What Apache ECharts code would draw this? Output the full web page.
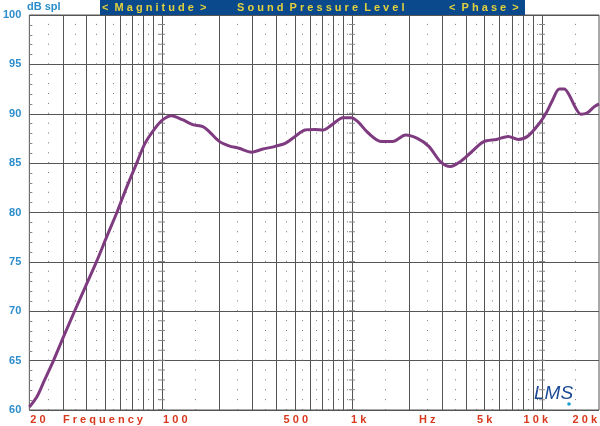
<!DOCTYPE html>
<html><head><meta charset="utf-8">
<script src="https://cdn.jsdelivr.net/npm/echarts@6/dist/echarts.min.js"></script>
<style>html,body{margin:0;padding:0;background:#fff}#c{width:600px;height:426px}</style>
</head><body><div id="c"></div>
<script>
// ---- data ----
const freqs = [20, 22, 24, 26.8, 30.4, 34.6, 39.5, 45.1, 51, 57.8, 65.2, 73.5, 81.3, 91.6, 101, 112, 128, 145, 164, 177, 200, 225, 254, 296, 336, 394, 445, 502, 566, 638, 706, 780, 898, 991, 1074, 1211, 1421, 1637, 1919, 2209, 2541, 2923, 3297, 3716, 4190, 4920, 5780, 6650, 7500, 8460, 9720, 10520, 11400, 12360, 13120, 13930, 15100, 16030, 17380, 18830, 20000];
const spl = [60.3, 61.4, 63.0, 65.0, 67.5, 70.0, 72.5, 75.0, 77.5, 80.0, 82.6, 85.0, 87.0, 88.5, 89.4, 89.8, 89.4, 88.9, 88.7, 88.2, 87.2, 86.75, 86.5, 86.1, 86.4, 86.7, 87.0, 87.7, 88.35, 88.4, 88.35, 88.85, 89.6, 89.6, 89.2, 88.1, 87.2, 87.2, 87.85, 87.5, 86.7, 85.15, 84.65, 85.15, 86.0, 87.15, 87.4, 87.7, 87.4, 87.75, 89.05, 90.05, 91.4, 92.5, 92.5, 91.9, 90.55, 89.95, 90.1, 90.7, 91.0];
const xTickLabels = ['20', 'Frequency', '100', '500', '1k', 'Hz', '5k', '10k', '20k'];
const xTickFreqs = [20, 50, 100, 500, 1000, 2550, 5000, 10000, 20000];
const majorGridFreqs = [30, 40, 50, 60, 70, 80, 90, 100, 200, 300, 400, 500, 600, 700, 800, 900, 1000, 2000, 3000, 4000, 5000, 6000, 7000, 8000, 9000, 10000];
const minorGridFreqs = [25, 35, 45, 55, 65, 75, 85, 95, 150, 250, 350, 450, 550, 650, 750, 850, 950, 1500, 2500, 3500, 4500, 5500, 6500, 7500, 8500, 9500, 15000];
const decadeFreqs = [100, 1000, 10000];
const bannerTexts = ['< Magnitude >', 'Sound Pressure Level', '< Phase >'];
const yUnit = 'dB spl';
const logoText = 'LMS';

// ---- chart ----
const FONT = '"Liberation Sans", Arial, sans-serif';
const spaced = s => s.split(' ').map(w => w.split('').join(' ')).join('  ');
const dotDash = [1, 8.875];

const chart = echarts.init(document.getElementById('c'), null, {renderer: 'canvas'});
const option = {
  animation: false,
  backgroundColor: '#fff',
  grid: {left: 25, right: 1, top: 15, bottom: 16, show: true, borderColor: '#555', borderWidth: 1},
  xAxis: {
    type: 'log', logBase: 10, min: 20, max: 20000,
    axisLine: {show: false}, axisTick: {show: false}, axisLabel: {show: false}, splitLine: {show: false}
  },
  yAxis: {
    type: 'value', min: 60, max: 100, interval: 5,
    axisLine: {show: false},
    axisTick: {show: false},
    minorTick: {show: true, splitNumber: 5, length: -3, lineStyle: {color: '#888'}},
    axisLabel: {color: '#2b8dcb', fontWeight: 'bold', fontSize: 11, fontFamily: FONT, margin: 8},
    splitLine: {show: true, lineStyle: {color: '#555', width: 1}}
  },
  series: [
    {
      type: 'line', data: [], silent: true,
      markLine: {
        silent: true, symbol: ['none', 'none'], animation: false,
        label: {show: false}, emphasis: {disabled: true},
        data: [
          ...majorGridFreqs.map(f => ({xAxis: f, lineStyle: {color: '#555', width: 1, type: 'solid'}})),
          ...minorGridFreqs.map(f => ({xAxis: f, lineStyle: {color: '#777', width: 1, type: dotDash}})),
          ...decadeFreqs.map(f => ({xAxis: f, lineStyle: {color: '#888', width: 6, type: dotDash}}))
        ]
      }
    },
    {
      type: 'line', z: 10,
      data: freqs.map((f, i) => [f, spl[i]]),
      showSymbol: false, smooth: 0.3,
      lineStyle: {color: '#7f3b80', width: 3}
    }
  ]
};
chart.setOption(option);

const px = f => chart.convertToPixel({xAxisIndex: 0}, f);
const aligns = ['left', 'center', 'left', 'center', 'left', 'center', 'center', 'center', 'right'];
const dxs = [1, -2, 1, 1, -1, -2, 0, -6, -2];
const graphics = xTickLabels.map((t, i) => ({
  type: 'text', silent: true,
  x: px(xTickFreqs[i]) + dxs[i], y: 419.5,
  style: {text: spaced(t), fill: '#d8381e', font: 'bold 11px ' + FONT, align: aligns[i], verticalAlign: 'middle'}
}));
graphics.push({type: 'rect', silent: true, shape: {x: 100, y: 0, width: 425, height: 15}, style: {fill: '#0a4a8c'}});
const bannerX = [102, 237, 449];
bannerTexts.forEach((t, i) => graphics.push({
  type: 'text', silent: true, x: bannerX[i], y: 7.5,
  style: {text: spaced(t), fill: '#e2d13c', font: 'bold 11px ' + FONT, align: 'left', verticalAlign: 'middle'}
}));
graphics.push({type: 'text', silent: true, x: 27, y: 7, style: {text: yUnit, fill: '#2b8dcb', font: 'bold 11px ' + FONT, align: 'left', verticalAlign: 'middle'}});
graphics.push({type: 'text', silent: true, x: 534, y: 394, style: {text: logoText, fill: '#1a4a96', font: 'italic 19px ' + FONT, align: 'left', verticalAlign: 'middle'}});
graphics.push({type: 'circle', silent: true, shape: {cx: 569, cy: 404, r: 1.8}, style: {fill: '#1aa0d0'}});
chart.setOption({graphic: graphics});
</script>
</body></html>
